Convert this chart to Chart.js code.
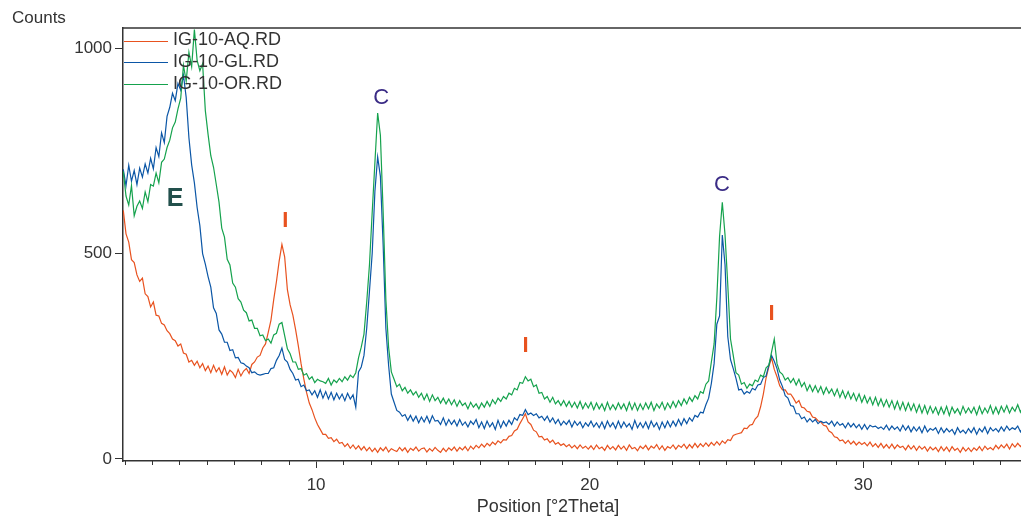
<!DOCTYPE html>
<html><head><meta charset="utf-8">
<script src="https://cdn.jsdelivr.net/npm/chart.js@4/dist/chart.umd.min.js"></script>
<style>html,body{margin:0;padding:0;background:#fff;overflow:hidden}#wrap{width:1021px;height:518px}</style>
</head><body><div id="wrap"><canvas id="c" width="1021" height="518"></canvas></div>
<script>
// scan definition (°2Theta)
const scanStart = 2.95, scanStep = 0.1;
const seriesNames = ['IG-10-AQ.RD', 'IG-10-GL.RD', 'IG-10-OR.RD'];
const xTickValues = [10, 20, 30];
const yTickValues = [0, 500, 1000];
const xAxisTitle = 'Position [°2Theta]';
const yAxisTitle = 'Counts';
// Counts (one row = 1 °2Theta)
const aqCounts = [
605,548,528,485,478,448,432,440,402,395,
370,382,350,348,330,326,312,305,292,288,
275,280,258,255,236,240,228,238,222,232,
215,226,210,228,212,222,206,224,204,216,
210,198,218,202,214,220,208,230,236,248,
252,270,280,308,338,388,432,482,522,492,
412,375,350,315,275,232,195,162,136,120,
100,84,72,60,60,50,52,42,48,38,
40,30,37,26,34,24,32,22,30,20,
28,18,26,16,27,20,29,17,25,21,
18,28,20,27,16,26,21,29,19,25,
27,17,25,19,28,21,16,26,18,27,
21,29,19,28,22,30,20,31,24,33,
27,36,29,38,32,41,35,44,39,47,
46,55,57,68,72,86,98,110,90,84,
70,66,54,55,46,49,40,46,36,40,
33,37,30,35,27,33,25,34,26,31,
24,32,23,34,25,29,21,33,24,30,
22,33,24,31,21,34,25,28,20,31,
25,33,22,31,26,35,23,32,21,30,
26,34,24,33,28,36,25,35,27,38,
28,37,30,39,31,40,33,42,34,44,
38,47,45,57,60,62,64,75,74,82,
84,97,104,127,158,197,224,246,218,200,
178,168,168,158,158,148,136,142,126,124,
116,114,102,100,93,90,82,80,68,64,
54,52,44,46,38,45,36,43,34,41,
35,40,32,41,30,37,28,38,27,35,
26,36,25,34,28,31,22,33,24,32,
21,31,24,30,19,29,22,28,18,30,
20,29,18,30,21,26,16,28,19,27,
18,27,21,30,20,31,23,28,22,33,
25,34,27,36,24,37,29,38,30,40
];
const glCounts = [
705,665,715,676,702,668,708,686,718,696,
732,706,758,736,794,770,834,856,890,872,
914,898,934,880,782,716,672,612,568,500,
474,444,418,368,354,314,304,284,284,264,
266,246,247,234,232,226,222,210,212,206,
204,206,208,208,220,222,240,252,270,242,
236,218,208,192,194,176,180,166,168,156,
166,150,168,148,164,146,162,144,160,146,
158,142,160,146,156,126,212,224,252,318,
408,500,652,735,688,522,318,228,158,138,
118,114,104,108,94,106,92,104,88,102,
90,104,88,105,92,94,84,100,82,96,
84,94,80,96,82,90,78,92,84,96,
76,90,74,92,78,88,72,94,76,92,
80,94,84,100,94,108,106,120,108,112,
106,110,100,104,94,104,90,100,86,96,
82,92,84,94,78,92,82,90,76,88,
80,92,78,88,76,90,74,92,78,88,
74,92,76,90,78,86,72,94,76,88,
76,90,74,92,78,88,72,90,76,92,
78,92,80,96,82,98,86,100,92,106,
102,114,112,132,148,184,232,328,348,545,
472,298,242,220,196,168,170,158,164,160,
172,168,180,182,198,202,228,252,238,220,
192,176,154,148,130,128,110,110,98,102,
90,98,90,96,86,92,88,90,84,92,
80,90,82,86,76,88,78,86,76,84,
72,84,72,82,78,80,74,78,72,82,
70,80,72,78,68,82,70,80,66,78,
68,78,64,80,66,74,70,76,62,76,
64,74,66,72,60,76,64,70,62,74,
64,76,60,74,66,78,62,76,68,74,
66,78,68,80,70,76,72,80,66,78
];
const orCounts = [
700,640,618,665,592,615,628,610,650,626,
668,664,696,672,722,730,758,776,806,820,
852,878,958,920,990,955,1045,970,945,962,
848,790,738,710,668,625,562,540,486,472,
428,418,390,382,362,356,336,338,318,318,
300,302,288,292,282,302,306,328,332,300,
268,256,236,236,218,220,204,208,194,200,
186,194,190,188,184,196,180,192,186,196,
188,200,192,204,198,210,246,272,304,382,
472,600,722,842,788,602,388,272,212,194,
176,182,166,174,160,168,156,164,150,160,
144,158,140,156,142,150,136,148,134,146,
132,144,128,142,130,136,122,138,126,134,
122,136,126,140,128,144,134,148,140,152,
146,160,156,172,168,186,184,200,190,194,
176,180,160,162,146,152,138,150,134,142,
130,142,128,140,126,138,124,140,122,136,
124,138,120,136,122,134,118,138,120,132,
120,136,122,134,118,138,120,136,118,134,
120,136,122,138,118,134,124,138,120,136,
124,140,126,142,130,146,134,150,140,154,
146,164,160,182,190,236,280,392,542,625,
545,424,292,252,210,204,182,186,172,182,
178,192,188,204,200,222,228,260,292,232,
212,206,192,198,186,196,180,194,176,186,
166,180,164,178,162,176,158,174,160,170,
154,170,150,166,148,164,146,160,142,158,
138,154,136,150,132,150,130,146,128,144,
126,142,122,140,120,138,118,136,118,134,
114,132,112,130,110,128,112,126,108,126,
110,128,106,126,112,122,108,128,112,124,
112,126,108,128,110,124,112,130,110,126,
110,128,114,130,112,126,116,132,114,128
];
// phase labels (text, 2Theta, counts)
const peakTexts = ['C', 'C', 'E', 'I', 'I', 'I'];
const peakPos = [12.38, 24.84, 4.84, 8.87, 17.66, 26.65];
const peakCounts = [879, 667, 633, 580, 275, 353];

const seriesColors = ['#e8521f', '#0b56a6', '#15a24d'];
const peakColors = {C: '#3b2c86', E: '#22504c', I: '#e8521f'};
const axisColor = '#333333';
const textColor = '#333333';
const FONT = "'Liberation Sans', Arial, sans-serif";

function toPoints(arr) {
  return arr.map((v, i) => ({x: Math.round((scanStart + i * scanStep) * 100) / 100, y: v}));
}

const decorPlugin = {
  id: 'decor',
  afterDatasetsDraw(chart) {
    const {ctx, chartArea: a, scales} = chart;
    const x = scales.x, y = scales.y;
    ctx.save();
    // top frame
    ctx.strokeStyle = axisColor; ctx.lineWidth = 1.5;
    ctx.beginPath(); ctx.moveTo(a.left, a.top); ctx.lineTo(a.right, a.top); ctx.stroke();
    // minor x ticks
    ctx.lineWidth = 1; ctx.beginPath();
    for (let v = Math.ceil(x.min); v <= x.max; v++) {
      if (v % 10 === 0) continue;
      const px = Math.round(x.getPixelForValue(v)) + 0.5;
      ctx.moveTo(px, a.bottom); ctx.lineTo(px, a.bottom + 4);
    }
    ctx.stroke();
    // peak labels
    ctx.textAlign = 'center'; ctx.textBaseline = 'middle';
    peakTexts.forEach((t, i) => {
      const px = x.getPixelForValue(peakPos[i]);
      const py = y.getPixelForValue(peakCounts[i]);
      ctx.fillStyle = peakColors[t];
      if (t === 'E') ctx.font = `bold 25px ${FONT}`;
      else if (t === 'C') ctx.font = `22px ${FONT}`;
      else ctx.font = `bold 22px ${FONT}`;
      ctx.fillText(t, px, py);
    });
    // legend
    ctx.textAlign = 'left'; ctx.textBaseline = 'middle';
    ctx.font = `18px ${FONT}`;
    seriesNames.forEach((n, i) => {
      const ly = a.top + 12.5 + i * 21.7;
      ctx.strokeStyle = seriesColors[i]; ctx.lineWidth = 1;
      ctx.beginPath(); ctx.moveTo(a.left + 1, Math.round(ly) + 0.5); ctx.lineTo(a.left + 45, Math.round(ly) + 0.5); ctx.stroke();
      ctx.fillStyle = textColor;
      ctx.fillText(n, a.left + 50, ly);
    });
    // axis captions
    ctx.fillStyle = textColor;
    ctx.font = `17px ${FONT}`; ctx.textBaseline = 'alphabetic'; ctx.textAlign = 'left';
    ctx.fillText(yAxisTitle, a.left - 111, a.top - 5);
    ctx.font = `18px ${FONT}`; ctx.textAlign = 'center';
    ctx.fillText(xAxisTitle, a.left + 425, a.bottom + 51);
    ctx.restore();
  }
};

new Chart(document.getElementById('c'), {
  type: 'line',
  data: {
    datasets: [
      {label: seriesNames[0], data: toPoints(aqCounts), borderColor: seriesColors[0], order: 2},
      {label: seriesNames[1], data: toPoints(glCounts), borderColor: seriesColors[1], order: 1},
      {label: seriesNames[2], data: toPoints(orCounts), borderColor: seriesColors[2], order: 0}
    ]
  },
  options: {
    responsive: false, animation: false, devicePixelRatio: 1,
    layout: {padding: {top: 28, left: 0, right: 0, bottom: 0}},
    elements: {point: {radius: 0}, line: {borderWidth: 1.2, tension: 0}},
    plugins: {legend: {display: false}, tooltip: {enabled: false}},
    scales: {
      x: {
        type: 'linear', min: 2.94, max: 35.77,
        afterBuildTicks: s => { s.ticks = xTickValues.map(v => ({value: v})); },
        afterFit: s => { s.height = 57; },
        grid: {display: true, drawOnChartArea: false, drawTicks: true, tickLength: 7, tickColor: axisColor, tickWidth: 1},
        border: {display: true, color: axisColor, width: 1.5},
        ticks: {color: textColor, font: {family: FONT, size: 17}, padding: 7, maxRotation: 0, callback: v => String(v)}
      },
      y: {
        type: 'linear', min: -5, max: 1049,
        afterBuildTicks: s => { s.ticks = yTickValues.map(v => ({value: v})); },
        afterFit: s => { s.width = 123; },
        grid: {display: true, drawOnChartArea: false, drawTicks: true, tickLength: 8, tickColor: axisColor, tickWidth: 1},
        border: {display: true, color: axisColor, width: 1.5},
        ticks: {color: textColor, font: {family: FONT, size: 17}, padding: 3, callback: v => String(v)}
      }
    }
  },
  plugins: [decorPlugin]
});
</script></body></html>
